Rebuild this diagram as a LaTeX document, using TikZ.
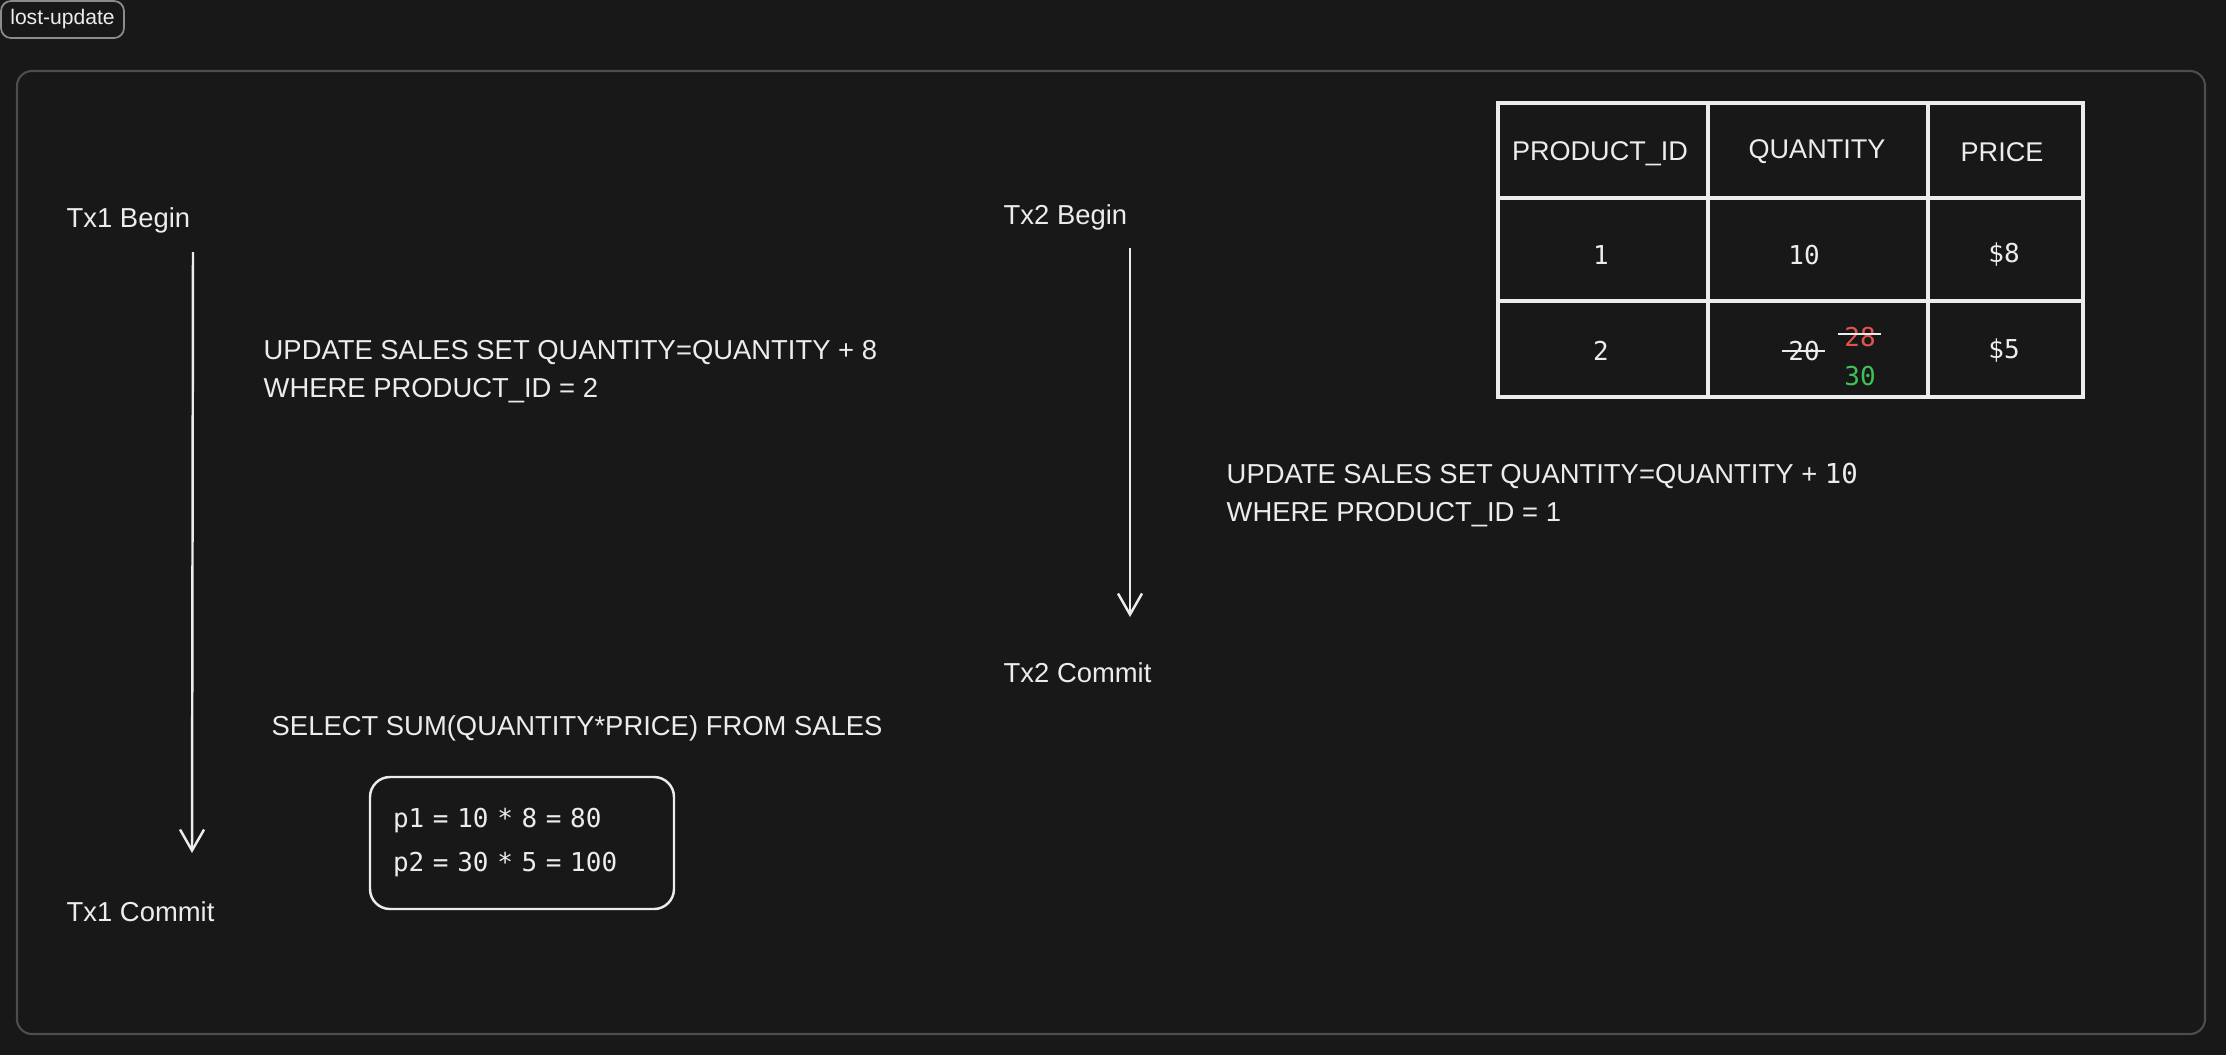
\documentclass[tikz,border=0pt]{standalone}
\usepackage{fontspec}
\setmainfont{Liberation Sans}
\newfontfamily\codefont{DejaVu Sans Mono}
\usepackage{tikz}
\usetikzlibrary{arrows.meta,positioning}
\definecolor{bgdark}{RGB}{24,24,24}
\definecolor{ink}{RGB}{236,236,236}
\definecolor{framegray}{RGB}{74,77,82}
\definecolor{taggray}{RGB}{140,140,140}
\definecolor{oldred}{RGB}{224,84,76}
\definecolor{newgreen}{RGB}{64,192,87}
\newcommand{\mono}[1]{{\codefont #1}}

\begin{document}
\begin{tikzpicture}[x=0.1mm,y=-0.1mm]
    \tikzset{txt/.style = {text=ink,inner sep=0,anchor=west,align=left,font=\fontsize{7.8}{10.8}\selectfont}}
    \tikzset{cell/.style = {text=ink,inner sep=0,font=\fontsize{7.7}{9}\selectfont}}
    \tikzset{num/.style = {text=ink,inner sep=0,font=\codefont\fontsize{7.4}{8}\selectfont}}
    \tikzset{box/.style = {draw=ink,line width=0.7pt,rounded corners=2mm,text=ink,align=left,text width=25.8mm,inner xsep=2.3mm,inner ysep=0,minimum height=13.2mm,font=\codefont\fontsize{7.4}{12.5}\selectfont}}
    \tikzset{edge/.style = {-{Straight Barb[length=2.1mm,width=2.4mm]},ink,line width=0.7pt}}
    \tikzset{grid/.style = {ink,line width=0.9pt}}
    % background and frame
    \fill[bgdark] (0,0) rectangle (2226,1055);
    \useasboundingbox (0,0) rectangle (2226,1055);
    \draw[framegray,line width=0.6pt,rounded corners=1.5mm] (17,71) rectangle (2205,1034);
    \node[draw=taggray,rounded corners=1mm,line width=0.5pt,text=ink,font=\fontsize{6}{7}\selectfont,minimum width=12.3mm,minimum height=3.7mm,inner sep=0] (0) at (62.5,19.5) {lost-update};
    % transaction 1
    \node[txt] (1) at (66,220) {Tx1 Begin};
    \node[txt] (2) at (66,912) {Tx1 Commit};
    \coordinate (3) at (193,252);
    \coordinate (4) at (192,853);
    \draw[edge] (3) -- (4);
    \node[txt] (5) at (263,372) {UPDATE SALES SET QUANTITY=QUANTITY + 8\\WHERE PRODUCT\_ID = 2};
    \node[txt] (6) at (271,728) {SELECT SUM(QUANTITY*PRICE) FROM SALES};
    \node[box] (7) at (522,843) {p1 = 10 * 8 = 80\\p2 = 30 * 5 = 100};
    % transaction 2
    \node[txt] (8) at (1003,217) {Tx2 Begin};
    \node[txt] (9) at (1003,673) {Tx2 Commit};
    \coordinate (10) at (1130,248);
    \coordinate (11) at (1130,617);
    \draw[edge] (10) -- (11);
    \node[txt] (12) at (1226,495) {UPDATE SALES SET QUANTITY=QUANTITY + \mono{10}\\WHERE PRODUCT\_ID = 1};
    % sales table
    \draw[grid] (1498,103) rectangle (2083,397);
    \draw[grid] (1708,103) -- (1708,397);
    \draw[grid] (1928,103) -- (1928,397);
    \draw[grid] (1498,198) -- (2083,198);
    \draw[grid] (1498,301) -- (2083,301);
    \node[cell] (13) at (1600,154) {PRODUCT\_ID};
    \node[cell] (14) at (1817,152) {QUANTITY};
    \node[cell] (15) at (2002,152) {PRICE};
    \node[num] (16) at (1601,255) {1};
    \node[num] (17) at (1804,255) {10};
    \node[num] (18) at (2004,255) {\$8};
    \node[num] (19) at (1601,351) {2};
    \node[num] (20) at (1804,351) {20};
    \node[num,text=oldred] (21) at (1860,337) {28};
    \node[num,text=newgreen] (22) at (1860,376) {30};
    \node[num] (23) at (2004,351) {\$5};
    \draw[ink,line width=0.6pt] ([xshift=-0.6mm]20.west) -- ([xshift=0.5mm]20.east);
    \draw[ink,line width=0.6pt] ([xshift=-0.6mm,yshift=0.3mm]21.west) -- ([xshift=0.5mm,yshift=0.3mm]21.east);
\end{tikzpicture}
\end{document}
